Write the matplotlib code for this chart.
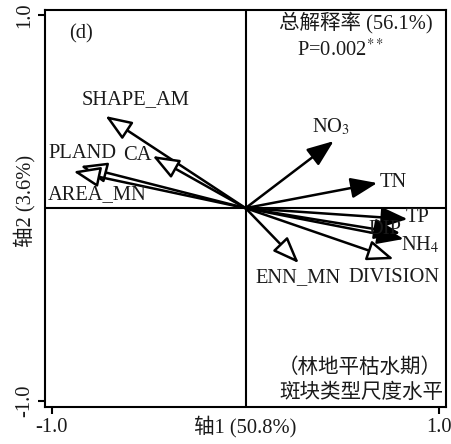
import matplotlib
matplotlib.use("Agg")
import matplotlib.pyplot as plt

plt.rcParams['font.family'] = ['Liberation Serif', 'Noto Sans CJK SC']
plt.rcParams['mathtext.fontset'] = 'stix'

# landscape metrics (open arrow heads)
land_names = ['SHAPE_AM', 'CA', 'PLAND', 'AREA_MN', 'ENN_MN', 'DIVISION']
land_x = [-0.724, -0.48, -0.853, -0.889, 0.275, 0.765]
land_y = [0.477, 0.27, 0.218, 0.19, -0.285, -0.264]
land_lab_x = [-0.57, -0.56, -0.84, -0.765, 0.27, 0.765]
land_lab_y = [0.56, 0.27, 0.285, 0.07, -0.36, -0.36]

# water quality variables (filled arrow heads)
env_names = ['NO$_3$', 'TN', 'TP', 'DIP', 'NH$_4$']
env_x = [0.455, 0.68, 0.837, 0.80, 0.817]
env_y = [0.347, 0.13, -0.057, -0.13, -0.16]
env_lab_x = [0.44, 0.765, 0.89, 0.72, 0.905]
env_lab_y = [0.42, 0.135, -0.05, -0.11, -0.19]

txt = '#1a1a1a'
fs = 14.8

fig = plt.figure(figsize=(4.52, 4.44), dpi=100)
ax = fig.add_axes([0.0996, 0.0833, 0.8874, 0.8942])
ax.set_xlim(-1.036, 1.036)
ax.set_ylim(-1.03, 1.026)

for s in ax.spines.values():
    s.set_linewidth(1.5)
ax.axhline(0, color='black', lw=1.5)
ax.axvline(0, color='black', lw=1.5)

ax.set_xticks([-1.0, 1.0])
ax.set_yticks([-1.0, 1.0])
ax.set_xticklabels(['-1.0', '1.0'])
ax.set_yticklabels(['-1.0', '1.0'], rotation=90, va='center')
ax.tick_params(direction='out', length=5, width=1.5, labelsize=fs,
               labelcolor=txt, pad=3)

ax.set_xlabel('轴1 (50.8%)', fontsize=fs, color=txt)
ax.xaxis.set_label_coords(0.5, -0.05)
ax.xaxis.label.set_va('center')
ax.set_ylabel('轴2 (3.6%)', fontsize=fs, color=txt)
ax.yaxis.set_label_coords(-0.051, 0.52)
ax.yaxis.label.set_va('center')

style = '-|>,head_length=0.9,head_width=0.35'
for x, y in zip(land_x, land_y):
    ax.annotate('', xy=(x, y), xytext=(0, 0),
                arrowprops=dict(arrowstyle=style, lw=1.8, ec='black', fc='white',
                                mutation_scale=18, shrinkA=0, shrinkB=0))
for x, y in zip(env_x, env_y):
    ax.annotate('', xy=(x, y), xytext=(0, 0),
                arrowprops=dict(arrowstyle=style, lw=1.8, ec='black', fc='black',
                                mutation_scale=18, shrinkA=0, shrinkB=0))

for name, x, y in zip(land_names, land_lab_x, land_lab_y):
    ax.text(x, y, name, ha='center', va='center', fontsize=fs, color=txt)
for name, x, y in zip(env_names, env_lab_x, env_lab_y):
    ax.text(x, y, name, ha='center', va='center', fontsize=fs, color=txt)

ax.text(-0.85, 0.90, '(d)', ha='center', va='center', fontsize=fs, color=txt)
ax.text(0.57, 0.96, '总解释率 (56.1%)', ha='center', va='center', fontsize=fs, color=txt)
ax.text(0.49, 0.82, 'P=0.002$^{**}$', ha='center', va='center', fontsize=fs, color=txt)
ax.text(0.59, -0.83, '（林地平枯水期）', ha='center', va='center', fontsize=fs, color=txt)
ax.text(0.60, -0.96, '斑块类型尺度水平', ha='center', va='center', fontsize=fs, color=txt)

fig.savefig('out.png', dpi=100)
